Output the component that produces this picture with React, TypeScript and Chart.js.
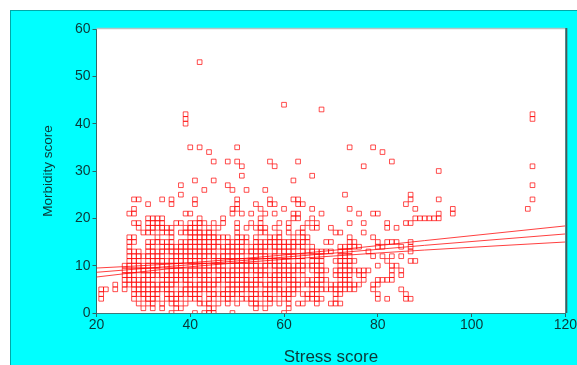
import React, { useEffect, useRef } from "react";
import { Chart, registerables } from "chart.js";

Chart.register(...registerables);

const xTickValues = [20, 40, 60, 80, 100, 120];
const yTickValues = [0, 10, 20, 30, 40, 50, 60];

// [morbidity score, stress scores observed at that morbidity]
const morbidityRows: Array<[number, number[]]> = [
  [0, [36, 41, 43, 44, 45, 49, 60]],
  [1, [30, 32, 34, 37, 38, 44, 45, 54, 56, 61]],
  [2, [29, 31, 32, 34, 36, 37, 39, 42, 43, 44, 46, 48, 50, 53, 54, 55, 57, 59, 61, 63, 64, 67, 70, 71, 72]],
  [3, [21, 28, 30, 31, 32, 33, 35, 36, 37, 38, 40, 41, 42, 44, 45, 47, 48, 49, 51, 52, 53, 54, 56, 57, 58, 60, 61, 65, 66, 67, 68, 71, 80, 82, 86, 87]],
  [4, [21, 28, 29, 30, 31, 32, 33, 35, 36, 37, 38, 39, 40, 41, 42, 44, 45, 46, 47, 48, 49, 50, 51, 53, 54, 55, 56, 57, 59, 60, 61, 62, 64, 65, 66, 67, 71, 72, 80, 86]],
  [5, [21, 22, 24, 26, 28, 29, 30, 31, 32, 33, 34, 35, 36, 38, 39, 40, 41, 42, 43, 44, 45, 47, 48, 49, 50, 51, 52, 53, 54, 56, 57, 58, 59, 60, 61, 62, 63, 66, 67, 68, 69, 70, 71, 72, 73, 74, 75, 79, 85]],
  [6, [24, 26, 27, 28, 29, 30, 31, 32, 33, 34, 35, 36, 37, 39, 40, 41, 42, 43, 44, 45, 46, 48, 49, 50, 51, 52, 53, 54, 55, 56, 57, 58, 59, 61, 62, 63, 64, 65, 66, 67, 68, 70, 71, 72, 73, 74, 75, 76, 79, 80]],
  [7, [26, 27, 28, 29, 30, 31, 32, 34, 35, 36, 37, 38, 39, 40, 42, 43, 44, 45, 46, 47, 48, 49, 50, 51, 52, 53, 54, 55, 57, 58, 59, 60, 61, 62, 63, 65, 66, 67, 68, 69, 72, 73, 74, 77, 80, 81, 82, 83]],
  [8, [26, 27, 28, 30, 31, 32, 33, 34, 35, 36, 37, 38, 39, 40, 41, 42, 43, 44, 46, 47, 48, 49, 50, 51, 52, 54, 55, 56, 57, 58, 59, 60, 61, 62, 64, 67, 68, 71, 72, 73, 74, 76, 77, 83, 85]],
  [9, [26, 27, 28, 29, 30, 31, 32, 33, 35, 36, 37, 38, 39, 40, 41, 42, 43, 44, 45, 46, 47, 48, 49, 50, 51, 52, 53, 54, 55, 56, 58, 59, 60, 61, 62, 63, 64, 66, 67, 68, 69, 71, 72, 73, 74, 75, 76, 77, 78, 83, 85]],
  [10, [26, 27, 28, 29, 30, 31, 32, 33, 34, 35, 36, 37, 38, 40, 41, 42, 43, 44, 45, 46, 47, 49, 50, 51, 52, 53, 54, 55, 56, 57, 58, 59, 60, 61, 62, 63, 64, 65, 66, 67, 68, 72, 73, 74, 80, 83, 84]],
  [11, [27, 28, 29, 31, 32, 33, 34, 35, 36, 37, 38, 39, 40, 41, 42, 43, 45, 46, 47, 48, 49, 50, 51, 52, 53, 54, 56, 57, 58, 59, 60, 61, 63, 64, 66, 67, 68, 71, 72, 73, 74, 75, 82, 87, 88]],
  [12, [27, 28, 29, 30, 31, 32, 33, 34, 36, 37, 38, 39, 40, 41, 42, 43, 44, 45, 46, 47, 48, 49, 50, 51, 53, 54, 55, 56, 57, 58, 60, 61, 62, 63, 64, 66, 67, 68, 72, 73, 74, 79, 81, 83, 85]],
  [13, [27, 28, 29, 31, 32, 33, 34, 35, 36, 37, 38, 39, 40, 41, 42, 43, 44, 45, 47, 48, 49, 50, 51, 52, 53, 54, 55, 56, 58, 59, 60, 61, 62, 64, 65, 66, 67, 68, 69, 70, 72, 73, 74, 78, 87]],
  [14, [27, 31, 32, 34, 35, 36, 37, 38, 39, 40, 41, 42, 43, 44, 45, 46, 47, 48, 49, 50, 51, 53, 54, 55, 56, 57, 58, 59, 60, 61, 62, 63, 64, 66, 72, 73, 74, 75, 76, 80, 81, 85, 87]],
  [15, [27, 28, 31, 32, 33, 34, 35, 36, 38, 39, 40, 41, 42, 43, 44, 45, 46, 48, 49, 50, 51, 52, 54, 55, 56, 57, 58, 59, 60, 61, 62, 63, 64, 65, 69, 70, 74, 75, 80, 82, 83, 84, 87]],
  [16, [27, 28, 33, 36, 40, 41, 42, 43, 44, 45, 46, 47, 48, 50, 51, 52, 54, 57, 58, 59, 62, 64, 65, 74, 79]],
  [17, [30, 31, 32, 34, 35, 36, 38, 39, 40, 41, 42, 43, 44, 45, 50, 55, 56, 59, 61, 63, 64, 71, 72, 77]],
  [18, [29, 31, 32, 33, 34, 35, 36, 39, 40, 41, 42, 44, 46, 50, 52, 54, 55, 56, 58, 61, 64, 66, 67, 70, 82, 84]],
  [19, [28, 29, 31, 32, 33, 34, 37, 38, 40, 41, 42, 43, 45, 47, 50, 53, 55, 59, 61, 65, 67, 74, 77, 82, 86, 87]],
  [20, [31, 32, 33, 34, 42, 47, 55, 62, 63, 66, 88, 89, 90, 91, 92, 93]],
  [21, [27, 28, 39, 40, 49, 51, 53, 56, 58, 62, 63, 68, 76, 79, 80, 93, 96]],
  [22, [28, 49, 50, 55, 60, 66, 74, 88, 96, 112]],
  [23, [31, 36, 41, 50, 54, 57, 58, 63, 64, 86]],
  [24, [28, 29, 34, 36, 41, 50, 57, 62, 63, 87, 93, 113]],
  [25, [38, 73, 87]],
  [26, [43, 49, 52, 56]],
  [27, [38, 48, 113]],
  [28, [41, 45, 62]],
  [29, [51, 66]],
  [30, [93]],
  [31, [51, 58, 77, 113]],
  [32, [45, 48, 50, 57, 63, 83]],
  [34, [44, 81]],
  [35, [40, 42, 50, 74, 79]],
  [40, [39]],
  [41, [39, 113]],
  [42, [39, 113]],
  [43, [68]],
  [44, [60]],
  [53, [42]],
];

// Regression line and its confidence band
const lineStress = [20, 35, 50, 70, 90, 120];
const fitMorbidity = [8.6, 9.8, 11.0, 12.6, 14.3, 16.7];
const upperMorbidity = [9.5, 10.3, 11.4, 13.2, 15.3, 18.4];
const lowerMorbidity = [7.6, 9.3, 10.6, 12.0, 13.3, 15.0];

const TEXT = "#0c3838";
const AXIS = "#2f6464";

const plotPlugin = {
  id: "plotFrame",
  beforeDraw(chart: any) {
    const { ctx, chartArea: a } = chart;
    ctx.save();
    ctx.fillStyle = "#ffffff";
    ctx.fillRect(a.left, a.top, a.right - a.left, a.bottom - a.top);
    ctx.restore();
  },
  afterDraw(chart: any) {
    const { ctx, chartArea: a } = chart;
    ctx.save();
    ctx.strokeStyle = "#b4c4c4";
    ctx.lineWidth = 1.5;
    ctx.beginPath();
    ctx.moveTo(a.left, a.top - 0.5);
    ctx.lineTo(a.right, a.top - 0.5);
    ctx.stroke();
    ctx.strokeStyle = "#4a5858";
    ctx.lineWidth = 2;
    ctx.beginPath();
    ctx.moveTo(a.right + 1, a.top - 1);
    ctx.lineTo(a.right + 1, a.bottom);
    ctx.stroke();
    ctx.restore();
  },
};

export default function App() {
  const ref = useRef<HTMLCanvasElement>(null);

  useEffect(() => {
    const points = morbidityRows.flatMap(([m, xs]) => xs.map((s) => ({ x: s, y: m })));
    const lineData = (ys: number[]) => lineStress.map((x, i) => ({ x, y: ys[i] }));
    const lineStyle = {
      type: "line" as const,
      borderColor: "rgba(255,30,30,0.85)",
      borderWidth: 1,
      pointRadius: 0,
      fill: false,
      cubicInterpolationMode: "monotone" as const,
    };
    const chart = new Chart(ref.current as HTMLCanvasElement, {
      type: "scatter",
      data: {
        datasets: [
          {
            data: points,
            pointStyle: "rect",
            pointRadius: 3.3,
            pointBorderWidth: 1,
            borderColor: "rgba(255,0,0,0.7)",
            backgroundColor: "rgba(0,0,0,0)",
          } as any,
          { ...lineStyle, data: lineData(upperMorbidity) } as any,
          { ...lineStyle, data: lineData(fitMorbidity) } as any,
          { ...lineStyle, data: lineData(lowerMorbidity) } as any,
        ],
      },
      options: {
        animation: false,
        responsive: false,
        events: [],
        layout: { padding: { top: 29, right: 9, left: 0, bottom: 0 } },
        plugins: { legend: { display: false }, tooltip: { enabled: false } },
        scales: {
          x: {
            type: "linear",
            min: 20,
            max: 120,
            afterBuildTicks: (s: any) => {
              s.ticks = xTickValues.map((v) => ({ value: v }));
            },
            afterFit: (s: any) => {
              s.height = 52;
            },
            ticks: { color: TEXT, font: { family: "Liberation Sans", size: 14 }, padding: 0, maxRotation: 0 },
            grid: { drawOnChartArea: false, drawTicks: true, tickLength: 4, color: AXIS },
            border: { display: true, color: "#3f7a7a", width: 1 },
            title: {
              display: true,
              text: "Stress score",
              color: TEXT,
              font: { family: "Liberation Sans", size: 17, lineHeight: 0.85 },
              padding: { top: 0, bottom: 0 },
            },
          },
          y: {
            type: "linear",
            min: 0,
            max: 60,
            afterBuildTicks: (s: any) => {
              s.ticks = yTickValues.map((v) => ({ value: v }));
            },
            afterFit: (s: any) => {
              s.width = 96.5;
            },
            ticks: { color: TEXT, font: { family: "Liberation Sans", size: 14 }, padding: 2 },
            grid: { drawOnChartArea: false, drawTicks: true, tickLength: 4, color: AXIS },
            border: { display: true, color: "#2f6a6a", width: 1 },
            title: {
              display: true,
              text: "Morbidity score",
              color: TEXT,
              font: { family: "Liberation Sans", size: 13.5, lineHeight: 1.2 },
              padding: { top: 39.9, bottom: 0 },
            },
          },
        },
      },
      plugins: [plotPlugin],
    });
    return () => chart.destroy();
  }, []);

  return (
    <div style={{ position: "fixed", left: 0, top: 0, width: 577, height: 365, background: "#ffffff", overflow: "hidden" }}>
      <div
        style={{
          position: "absolute",
          left: 10,
          top: 10,
          width: 567,
          height: 355,
          background: "#00ffff",
          borderLeft: "1px solid #00a8a8",
          borderTop: "1px solid #00a8a8",
          boxSizing: "border-box",
        }}
      />
      <canvas ref={ref} width={577} height={365} style={{ position: "absolute", left: 0, top: 0, width: 577, height: 365 }} />
    </div>
  );
}
